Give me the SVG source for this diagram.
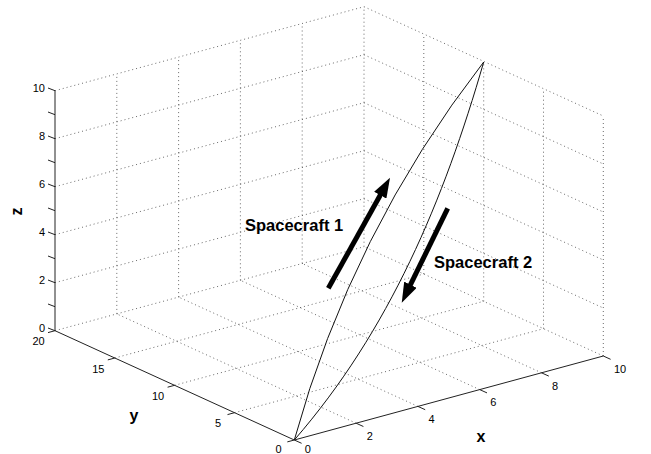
<svg xmlns="http://www.w3.org/2000/svg" width="651" height="454" viewBox="0 0 651 454">
<style>
.grid{stroke:#444;stroke-width:0.8;stroke-dasharray:1 3;fill:none}
.axis{stroke:#222;stroke-width:1;fill:none}
.tick{stroke:#222;stroke-width:1;fill:none}
.tl{font-family:"Liberation Sans",Arial,sans-serif;font-size:11px;fill:#000}
.al{font-family:"Liberation Sans",Arial,sans-serif;font-size:16px;font-weight:bold;fill:#000}
.lbl{font-family:"Liberation Sans",Arial,sans-serif;font-size:16.5px;font-weight:bold;fill:#000}
.traj{stroke:#111;stroke-width:1;fill:none}
.arrow{stroke:#000;stroke-width:5;fill:none}
</style>
<defs>
<marker id="head" viewBox="0 0 20 14" refX="5" refY="7" markerWidth="20" markerHeight="14" orient="auto" markerUnits="userSpaceOnUse">
<path d="M0,0 L20,7 L0,14 z" fill="#000"/>
</marker>
</defs>
<rect width="651" height="454" fill="#fff"/>
<g id="grid">
<path class="grid" d="M116.8,313.9V73.9M178.6,297.1V57.1M240.4,280.3V40.3M302.2,263.5V23.5M364,246.7V6.7"/>
<path class="grid" d="M55,282.7L364,198.7M55,234.7L364,150.7M55,186.7L364,102.7M55,138.7L364,54.7M55,90.7L364,6.7"/>
<path class="grid" d="M603.3,356V116M543.5,328.7V88.7M483.7,301.4V61.4M423.8,274V34"/>
<path class="grid" d="M364,198.7L603.3,308M364,150.7L603.3,260M364,102.7L603.3,212M364,54.7L603.3,164M364,6.7L603.3,116"/>
<path class="grid" d="M356.1,423.2L116.8,313.9M417.9,406.4L178.6,297.1M479.7,389.6L240.4,280.3M541.5,372.8L302.2,263.5M603.3,356L364,246.7"/>
<path class="grid" d="M234.5,412.7L543.5,328.7M174.6,385.3L483.6,301.3M114.8,358L423.8,274M55,330.7L364,246.7"/>
</g>
<g id="axes">
<path class="axis" d="M294.3,440L603.3,356M294.3,440L55,330.7M55,330.7V90.7"/>
<path class="tick" d="M55,330.7l-7,-2.7M55,306.7l-7,-2.7M55,282.7l-7,-2.7M55,258.7l-7,-2.7M55,234.7l-7,-2.7M55,210.7l-7,-2.7M55,186.7l-7,-2.7M55,162.7l-7,-2.7M55,138.7l-7,-2.7M55,114.7l-7,-2.7M55,90.7l-7,-2.7"/>
<path class="tick" d="M294.3,440l-7,1.9M234.5,412.7l-7,1.9M174.6,385.3l-7,1.9M114.8,358l-7,1.9M55,330.7l-7,1.9"/>
<path class="tick" d="M294.3,440l7.3,3.3M356.1,423.2l7.3,3.3M417.9,406.4l7.3,3.3M479.7,389.6l7.3,3.3M541.5,372.8l7.3,3.3M603.3,356l7.3,3.3"/>
<g class="tl" text-anchor="end">
<text x="45" y="332">0</text>
<text x="45" y="284">2</text>
<text x="45" y="236">4</text>
<text x="45" y="188">6</text>
<text x="45" y="140">8</text>
<text x="45" y="92">10</text>
</g>
<g class="tl" text-anchor="middle">
<text x="38.5" y="345.2">20</text>
<text x="98.3" y="372.5">15</text>
<text x="158.1" y="399.8">10</text>
<text x="218" y="427.2">5</text>
<text x="278.5" y="453">0</text>
<text x="307.9" y="453">0</text>
<text x="369.7" y="439.9">2</text>
<text x="431.5" y="423.1">4</text>
<text x="493.3" y="406.3">6</text>
<text x="555.1" y="389.5">8</text>
<text x="620" y="372.7">10</text>
</g>
<text class="al" x="22" y="211.5" text-anchor="middle" transform="rotate(-90 22 211.5)">z</text>
<text class="al" x="134" y="421" text-anchor="middle">y</text>
<text class="al" x="481" y="442" text-anchor="middle">x</text>
</g>
<g id="trajectory1">
<path class="traj" d="M294.3,440Q351.6,232.2 483.7,62"/>
</g>
<g id="trajectory2">
<path class="traj" d="M294.3,440C389.7,330.2 444,199.7 483.7,62"/>
</g>
<g id="connectors">
<path class="arrow" d="M328.3,288.3L382.7,190.8" marker-end="url(#head)"/>
<path class="arrow" d="M447.7,208.3L408.3,289.2" marker-end="url(#head)"/>
</g>
<g id="label1">
<text class="lbl" x="245" y="231">Spacecraft 1</text>
</g>
<g id="label2">
<text class="lbl" x="434" y="267.5">Spacecraft 2</text>
</g>
</svg>
